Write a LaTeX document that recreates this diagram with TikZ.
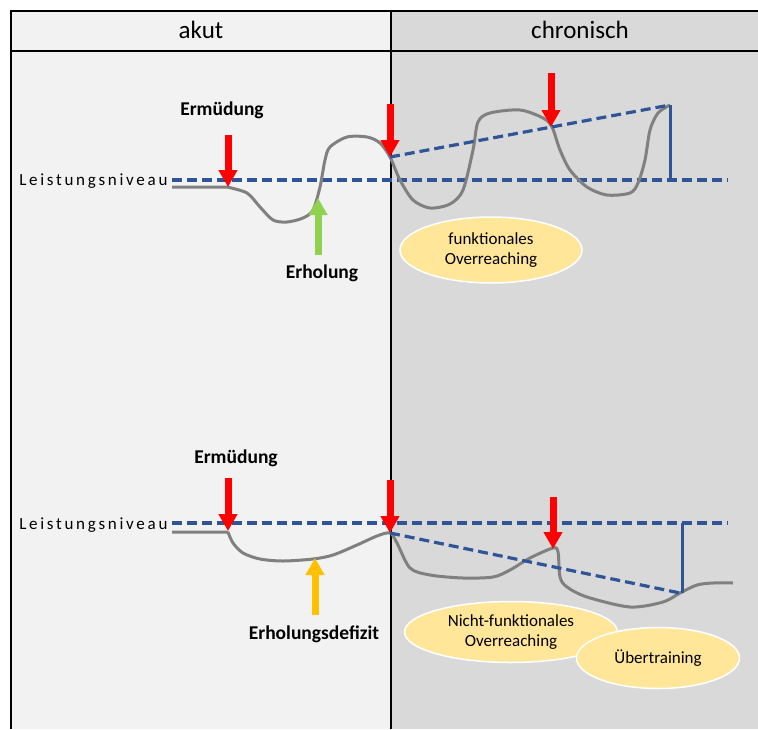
\documentclass[tikz,border=0pt]{standalone}
\usepackage{fontspec}
\setmainfont{Carlito}
\usetikzlibrary{arrows.meta,shapes.geometric}
\definecolor{akutgrey}{HTML}{F2F2F2}
\definecolor{chrongrey}{HTML}{D9D9D9}
\definecolor{niveaublue}{HTML}{2F5597}
\definecolor{kurvegrey}{HTML}{808080}
\definecolor{erholgreen}{HTML}{92D050}
\definecolor{defizitgold}{HTML}{FFC000}
\definecolor{ovalfill}{HTML}{FFE699}
\tikzset{
  niveau/.style={niveaublue, line width=3.2pt, dash pattern=on 10pt off 5pt},
  kurve/.style={kurvegrey, line width=3pt, line join=round},
  pfeil/.style={-{Triangle[width=18pt,length=17pt]}, line width=7pt},
  oval/.style={ellipse, draw=white, line width=1.5pt, fill=ovalfill, inner sep=0pt, align=center, font=\fontsize{17}{20}\selectfont},
  marke/.style={font=\fontsize{19.5}{22}\selectfont\bfseries},
  kopf/.style={font=\fontsize{25}{28}\selectfont},
  niveautext/.style={anchor=east, font=\fontsize{17}{19}\selectfont\addfontfeature{LetterSpace=16}}
}
\begin{document}
\begin{tikzpicture}[x=1pt, y=-1pt]
		\useasboundingbox (0,0) rectangle (758,729);
		%table
		\fill[akutgrey] (11,11) rectangle (391,729);
		\fill[chrongrey] (391,11) rectangle (758,729);
		\draw[line width=1.5pt] (11,729) -- (11,11) -- (758,11);
		\draw[line width=1.5pt] (11,51) -- (758,51);
		\draw[line width=1.5pt] (391,11) -- (391,729);
		\node[kopf] (akut) at (201,30){akut};
		\node[kopf] (chronisch) at (580,30){chronisch};
		
		%oben: funktionales Overreaching
		\node[niveautext] (niveauA) at (171,181){Leistungsniveau};
		\draw[niveau] (172,180) -- (728,180);
		\draw[kurve] (172,187) -- (227,187) plot[smooth, tension=0.5] coordinates {(227,187) (247,193) (260,207) (273,220) (287,222) (303,218) (313,210) (320,187) (325,160) (330,147) (347,137) (367,137) (380,143) (390,157) (400,180) (413,200) (430,208) (450,204) (463,190) (473,150) (478,122) (490,113) (520,110) (543,118) (552,127) (560,150) (570,170) (587,187) (607,195) (630,193) (638,183) (645,160) (650,130) (658,113) (670,105)};
		\coordinate (obenStart) at (390,157);
		\coordinate (obenSpitze) at (670,105);
		\coordinate (obenFuss) at (670,180);
		\draw[niveau] (obenStart) -- (obenSpitze);
		\draw[niveaublue, line width=3pt] (obenSpitze) -- (obenFuss);
		\node[marke] (ermA) at (222,110){Ermüdung};
		\node[marke] (erhA) at (322,273){Erholung};
		\foreach \x/\a/\b in {228/135/187, 390/104/157, 551/73/127}{
			\draw[pfeil, red] (\x,\a) -- (\x,\b);
		}
		\coordinate (gruenFuss) at (318,255);
		\coordinate (gruenSpitze) at (318,198);
		\draw[pfeil, erholgreen] (gruenFuss) -- (gruenSpitze);
		\node[oval, minimum width=182pt, minimum height=66pt] (funkt) at (491,250){funktionales\\Overreaching};
		
		%unten: Nicht-funktionales Overreaching
		\node[niveautext] (niveauB) at (171,525){Leistungsniveau};
		\draw[niveau] (172,523) -- (728,523);
		\draw[kurve] (172,532) -- (228,532) plot[smooth, tension=0.5] coordinates {(228,532) (233,543) (243,553) (260,559) (283,561) (313,559) (333,555) (357,545) (377,536) (390,533) (397,543) (410,568) (430,575) (463,578) (493,577) (510,570) (530,558) (553,548) (558,552) (560,577) (567,587) (587,597) (630,607) (663,602) (680,593) (697,585) (713,583) (733,583)};
		\coordinate (untenStart) at (390,533);
		\coordinate (untenTief) at (680,593);
		\coordinate (untenKopf) at (682,523);
		\draw[niveau] (untenStart) -- (untenTief);
		\draw[niveaublue, line width=3pt] (untenKopf) -- (untenKopf |- untenTief);
		\node[marke] (ermB) at (236,458){Ermüdung};
		\node[marke] (defB) at (314,634){Erholungsdefizit};
		\foreach \x/\a/\b in {228/478/531, 390/480/533, 553/497/549}{
			\draw[pfeil, red] (\x,\a) -- (\x,\b);
		}
		\coordinate (gelbFuss) at (315,615);
		\coordinate (gelbSpitze) at (315,558);
		\draw[pfeil, defizitgold] (gelbFuss) -- (gelbSpitze);
		\node[oval, minimum width=213pt, minimum height=61pt] (nichtfunkt) at (511,632){Nicht-funktionales\\Overreaching};
		\node[oval, minimum width=163pt, minimum height=61pt] (uebertr) at (658,658){Übertraining};
\end{tikzpicture}
\end{document}
